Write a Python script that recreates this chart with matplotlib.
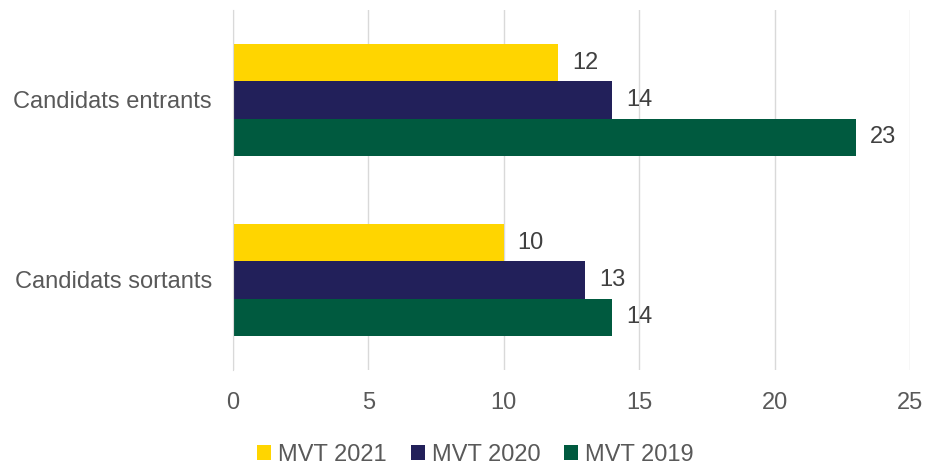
import numpy as np
import matplotlib.pyplot as plt

plt.rcParams['font.family'] = ['Liberation Sans', 'DejaVu Sans']

categories = ['Candidats sortants', 'Candidats entrants']
series = ['MVT 2021', 'MVT 2020', 'MVT 2019']
values = {
    'MVT 2021': [10, 12],
    'MVT 2020': [13, 14],
    'MVT 2019': [14, 23],
}
colors = {'MVT 2021': '#FFD500', 'MVT 2020': '#22205A', 'MVT 2019': '#005A3F'}

fig = plt.figure(figsize=(9.27, 4.65), dpi=100)
ax = fig.add_axes([0.2513, 0.2043, 0.7304, 0.7742])

y = np.arange(len(categories))
h = 0.207
offsets = {'MVT 2021': h, 'MVT 2020': 0, 'MVT 2019': -h}
txt = '#404040'
fs = 17
for s in series:
    bars = ax.barh(y + offsets[s], values[s], height=h, color=colors[s],
                   label=s, zorder=3)
    for b, v in zip(bars, values[s]):
        ax.annotate(str(v), (b.get_width(), b.get_y() + b.get_height() / 2),
                    xytext=(10, 0), textcoords='offset points',
                    va='center', ha='left', fontsize=fs, color=txt)

ax.set_xlim(0, 25)
ax.set_ylim(-0.5, 1.5)
ax.set_xticks(range(0, 26, 5))
ax.set_yticks(y)
ax.set_yticklabels(categories)
ax.grid(axis='x', color='#D9D9D9', linewidth=1, zorder=0)
for sp in ['top', 'right', 'bottom']:
    ax.spines[sp].set_visible(False)
ax.spines['left'].set_color('#D9D9D9')
ax.spines['left'].set_zorder(4)
ax.tick_params(length=0, labelsize=fs, labelcolor='#595959')
ax.tick_params(axis='x', pad=16)
ax.tick_params(axis='y', pad=15)

leg = fig.legend(loc='lower center', bbox_to_anchor=(0.513, -0.048), ncol=3,
                 frameon=False, fontsize=fs, handlelength=0.6, handleheight=0.6,
                 handletextpad=0.3, columnspacing=1.0, labelcolor='#595959')

fig.savefig('out.png', dpi=100)
